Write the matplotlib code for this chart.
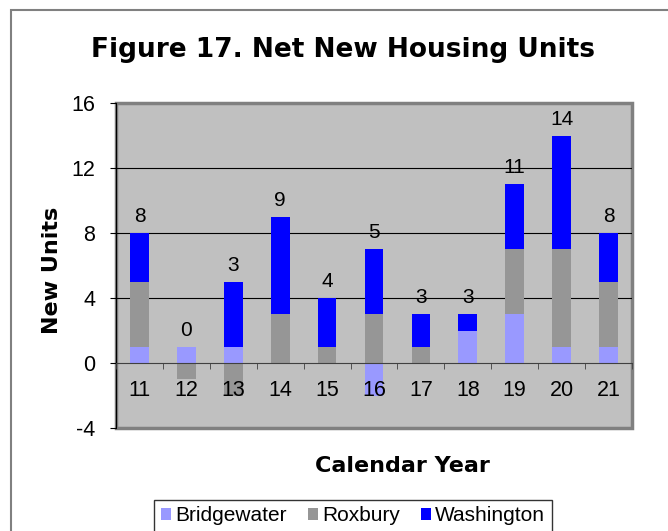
import numpy as np
import matplotlib
matplotlib.use("Agg")
import matplotlib.pyplot as plt
from matplotlib.patches import Rectangle

years = ["11", "12", "13", "14", "15", "16", "17", "18", "19", "20", "21"]
bridgewater = [1, 1, 1, 0, 0, -2, 0, 2, 3, 1, 1]
roxbury = [4, -1, -2, 3, 1, 3, 1, 0, 4, 6, 4]
washington = [3, 0, 4, 6, 3, 4, 2, 1, 4, 7, 3]
totals = [8, 0, 3, 9, 4, 5, 3, 3, 11, 14, 8]

series = [("Bridgewater", bridgewater, "#9999FF"),
          ("Roxbury", roxbury, "#969696"),
          ("Washington", washington, "#0000FF")]


def main():
    plt.rcParams["font.family"] = ["Liberation Sans", "DejaVu Sans"]
    plt.rcParams["axes.unicode_minus"] = False
    fig = plt.figure(figsize=(6.68, 5.31), dpi=100)
    ax = fig.add_axes([116 / 668, 1 - 428 / 531, 516 / 668, 325 / 531])
    ax.set_facecolor("#C0C0C0")

    x = np.arange(len(years))
    pos_bottom = np.zeros(len(years))
    neg_bottom = np.zeros(len(years))
    for name, vals, color in series:
        vals = np.array(vals, dtype=float)
        bottom = np.where(vals >= 0, pos_bottom, neg_bottom)
        ax.bar(x, vals, 0.4, bottom=bottom, color=color, label=name, zorder=2)
        pos_bottom += np.clip(vals, 0, None)
        neg_bottom += np.clip(vals, None, 0)

    # total labels above the stacks
    for xi, top, t in zip(x, pos_bottom, totals):
        ax.annotate(str(t), (xi, top), xytext=(0, 5), textcoords="offset points",
                    ha="center", va="bottom", fontsize=15, zorder=4)

    ax.set_xlim(-0.5, len(years) - 0.5)
    ax.set_ylim(-4, 16)
    ax.set_yticks([-4, 0, 4, 8, 12, 16])
    for g in [4, 8, 12]:
        ax.axhline(g, color="black", lw=0.8, zorder=1)

    ax.spines["bottom"].set_position(("data", 0))
    ax.spines["bottom"].set_color("#404040")
    ax.spines["bottom"].set_zorder(2.5)
    ax.spines["top"].set_visible(False)
    ax.spines["right"].set_visible(False)
    ax.spines["left"].set_color("black")
    ax.add_patch(Rectangle((0, 0), 1, 1, transform=ax.transAxes, fill=False,
                           edgecolor="#808080", lw=2.5, clip_on=False, zorder=0.5))

    ax.set_xticks(x)
    ax.set_xticklabels(years, fontsize=15.5)
    ax.set_xticks(np.arange(len(years) + 1) - 0.5, minor=True)
    ax.tick_params(axis="x", which="major", length=0, pad=12)
    ax.tick_params(axis="x", which="minor", length=4, direction="out", color="#404040")
    ax.tick_params(axis="y", length=4, pad=11, labelsize=15.5)
    ax.xaxis.set_zorder(4)

    bold = dict(family=["DejaVu Sans"], fontweight="bold")
    fig.text(343 / 668, 1 - 50 / 531, "Figure 17. Net New Housing Units",
             ha="center", va="center", fontsize=19, **bold)
    fig.text(52 / 668, 1 - 270 / 531, "New Units", rotation=90,
             ha="center", va="center", fontsize=16, **bold)
    fig.text(402 / 668, 1 - 466 / 531, "Calendar Year",
             ha="center", va="center", fontsize=16, **bold)

    leg = fig.legend(loc="upper center", bbox_to_anchor=(353 / 668, 1 - 500 / 531),
                     ncol=3, fontsize=15, handlelength=0.5, handleheight=0.5,
                     handletextpad=0.2, columnspacing=1.0, fancybox=False,
                     borderpad=0.3, borderaxespad=0)
    leg.get_frame().set_edgecolor("black")
    leg.get_frame().set_linewidth(1)

    # outer chart border
    fig.patches.append(Rectangle((11 / 668, -0.1), 2, 1.1 - 10 / 531,
                                 transform=fig.transFigure, fill=False,
                                 edgecolor="#808080", lw=1.5))

    fig.savefig("out.png", dpi=100)


if __name__ == "__main__":
    main()
